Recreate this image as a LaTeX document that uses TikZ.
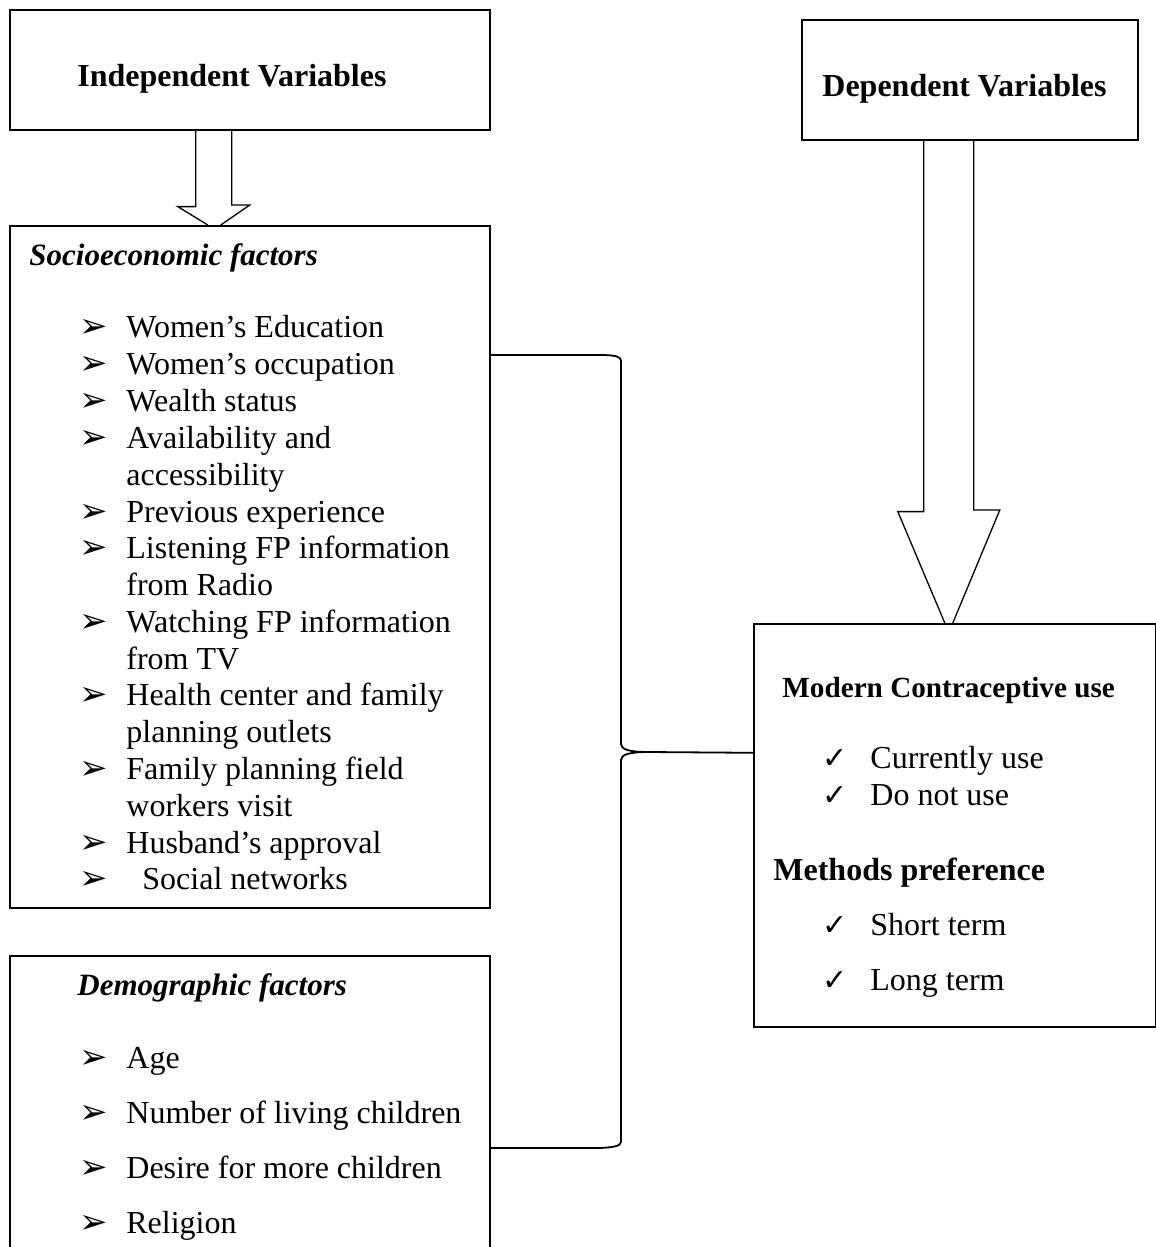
\documentclass[tikz,border=0pt]{standalone}
\usepackage{fontspec}
\setmainfont{Liberation Serif}
\newfontfamily\symfont{DejaVu Sans}
\usepackage{tikz}

\begin{document}
\begin{tikzpicture}[x=0.5pt, y=-0.5pt, box/.style={draw, line width=0.8pt, fill=white, inner sep=0pt, anchor=north west}, txt/.style={anchor=base west, inner sep=0pt, font=\fontsize{16}{19}\selectfont}, head/.style={txt, font=\fontsize{16}{19}\selectfont\bfseries}, ihead/.style={txt, font=\fontsize{15.5}{19}\selectfont\bfseries\itshape}, arrowbullet/.style={txt, font=\fontsize{17}{20}\symfont}, tick/.style={txt, font=\fontsize{15}{18}\symfont}, blockarrow/.style={line width=0.65pt}, brace/.style={line width=0.9pt}]
  \clip (0,0) rectangle (1156,1247);
  \node[box, minimum width=240pt, minimum height=60pt] (indep) at (9,9) {};
  \node[box, minimum width=240pt, minimum height=341pt] (socio) at (9,225) {};
  \node[box, minimum width=240pt, minimum height=170pt] (demo) at (9,955) {};
  \node[box, minimum width=168pt, minimum height=60pt] (dep) at (801,19) {};
  \node[box, minimum width=201pt, minimum height=201.5pt] (modern) at (753,623) {};
  \node[head] (indeptitle) at (77,87) {Independent Variables};
  \node[head] (deptitle) at (822,97) {Dependent Variables};
  \node[ihead] (sociotitle) at (29,265) {Socioeconomic factors};
  \node[ihead] (demotitle) at (77,995) {Demographic factors};
  \node[head, font=\fontsize{14.6}{18}\selectfont\bfseries] (usetitle) at (782,697) {Modern Contraceptive use};
  \node[head] (preftitle) at (773,880) {Methods preference};
  \foreach \t/\y [count=\i] in {Women’s Education/337, Women’s occupation/374, Wealth status/411, Availability and/448, accessibility/485, Previous experience/522, Listening FP information/558, from Radio/595, Watching FP information/632, from TV/669, Health center and family/705, planning outlets/742, Family planning field/779, workers visit/816, Husband’s approval/853}
    \node[txt] (socioitem\i) at (126,\y) {\t};
  \node[txt] (socioitem16) at (142,889) {Social networks};
  \foreach \y [count=\i] in {337,374,411,448,522,558,632,705,779,853,889}
    \node[arrowbullet] (sociobullet\i) at (79,\y) {➢};
  \foreach \t/\y [count=\i] in {Age/1068, Number of living children/1123, Desire for more children/1178, Religion/1233} {
    \node[arrowbullet] (demobullet\i) at (79,\y) {➢};
    \node[txt] (demoitem\i) at (126,\y) {\t};
  }
  \foreach \t/\y [count=\i] in {Currently use/768, Do not use/805, Short term/935, Long term/990} {
    \node[tick] (tick\i) at (822,\y) {✓};
    \node[txt] (outcome\i) at (870,\y) {\t};
  }
  \draw[blockarrow] ([xshift=-27pt]indep.south) -- ++(0,76) -- ++(-18,0) -- ([xshift=-21pt]socio.north);
  \draw[blockarrow] ([xshift=-14.5pt]socio.north) -- ++(29,-20) -- ++(-18,0) -- ([xshift=-9pt]indep.south);
  \draw[blockarrow] ([xshift=-23pt]dep.south) -- ++(0,371) -- ++(-26,0) -- ([xshift=-5pt]modern.north);
  \draw[blockarrow] ([xshift=-1pt]modern.north) -- ++(47,-113) -- ++(-26,0) -- ([xshift=2pt]dep.south);
  \draw[brace] ([yshift=-65pt]socio.north east) -- (600,355) .. controls (617,355) and (621,357) .. (621,361) -- (621,744) .. controls (621,749) and (628,752) .. (648,752) -- ([yshift=36.25pt]modern.west);
  \draw[brace] (648,752) .. controls (628,752) and (621,755) .. (621,760) -- (621,1142) .. controls (621,1146) and (612,1148) .. (595,1148) -- ([yshift=-96.5pt]demo.north east);
\end{tikzpicture}
\end{document}
